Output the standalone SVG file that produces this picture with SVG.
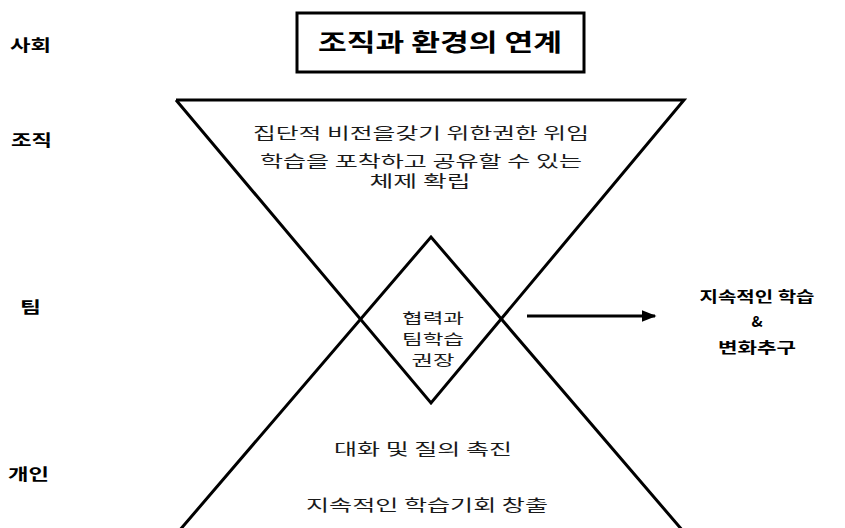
<svg xmlns="http://www.w3.org/2000/svg" width="845" height="528" viewBox="0 0 845 528">
<defs>
<style>
.ln{fill:none;stroke:#000;stroke-width:3;stroke-linejoin:miter}
.lab{font-family:"Noto Sans CJK KR","Noto Sans",sans-serif;font-weight:bold;font-size:16px;fill:#000}
.t{font-family:"Noto Sans CJK KR","Noto Sans",sans-serif;font-size:15.5px;fill:#1a1a1a;text-anchor:middle}
.d{font-family:"Noto Sans CJK KR","Noto Sans",sans-serif;font-size:14px;fill:#1a1a1a;text-anchor:middle}
.side{font-family:"Noto Sans CJK KR","Noto Sans",sans-serif;font-weight:bold;font-size:15px;fill:#000;text-anchor:middle}
</style>
<marker id="ah" viewBox="0 0 10 10" refX="9" refY="5" markerWidth="5" markerHeight="4" orient="auto" markerUnits="strokeWidth" preserveAspectRatio="none">
<path d="M0,0 L10,5 L0,10 z" fill="#000"/>
</marker>
</defs>
<rect width="845" height="528" fill="#fff"/>
<g id="levels">
<text class="lab" x="10" y="51" textLength="41" lengthAdjust="spacingAndGlyphs">사회</text>
<text class="lab" x="11" y="146" textLength="41" lengthAdjust="spacingAndGlyphs">조직</text>
<text class="lab" x="20" y="313" textLength="21" lengthAdjust="spacingAndGlyphs">팀</text>
<text class="lab" x="8" y="480" textLength="41" lengthAdjust="spacingAndGlyphs">개인</text>
</g>
<g id="title">
<rect x="297" y="13" width="287" height="59" class="ln"/>
<text x="440" y="51" font-family="'Noto Sans CJK KR',sans-serif" font-weight="bold" font-size="24" text-anchor="middle" textLength="244" lengthAdjust="spacingAndGlyphs">조직과 환경의 연계</text>
</g>
<g id="connectors">
<polyline class="ln" points="176,100 684,100 431,403 176,100"/>
<polyline class="ln" points="167,545 431,237 695,545"/>
<line class="ln" x1="527" y1="316" x2="655" y2="316" marker-end="url(#ah)"/>
</g>
<g id="organization">
<text class="t" x="421" y="139" textLength="336" lengthAdjust="spacingAndGlyphs">집단적 비전을갖기 위한권한 위임</text>
<text class="t" x="421" y="167" textLength="322" lengthAdjust="spacingAndGlyphs">학습을 포착하고 공유할 수 있는</text>
<text class="t" x="420" y="187" textLength="101" lengthAdjust="spacingAndGlyphs">체제 확립</text>
</g>
<g id="team">
<text class="d" x="433" y="323" textLength="62" lengthAdjust="spacingAndGlyphs">협력과</text>
<text class="d" x="433" y="344" textLength="62" lengthAdjust="spacingAndGlyphs">팀학습</text>
<text class="d" x="433" y="365" textLength="43" lengthAdjust="spacingAndGlyphs">권장</text>
</g>
<g id="individual">
<text class="t" x="423" y="455" textLength="178" lengthAdjust="spacingAndGlyphs">대화 및 질의 촉진</text>
<text class="t" x="427" y="511" textLength="242" lengthAdjust="spacingAndGlyphs">지속적인 학습기회 창출</text>
</g>
<g id="result">
<text class="side" x="757" y="302" textLength="115" lengthAdjust="spacingAndGlyphs">지속적인 학습</text>
<text class="side" x="757" y="327">&amp;</text>
<text class="side" x="757" y="353" textLength="78" lengthAdjust="spacingAndGlyphs">변화추구</text>
</g>
</svg>
